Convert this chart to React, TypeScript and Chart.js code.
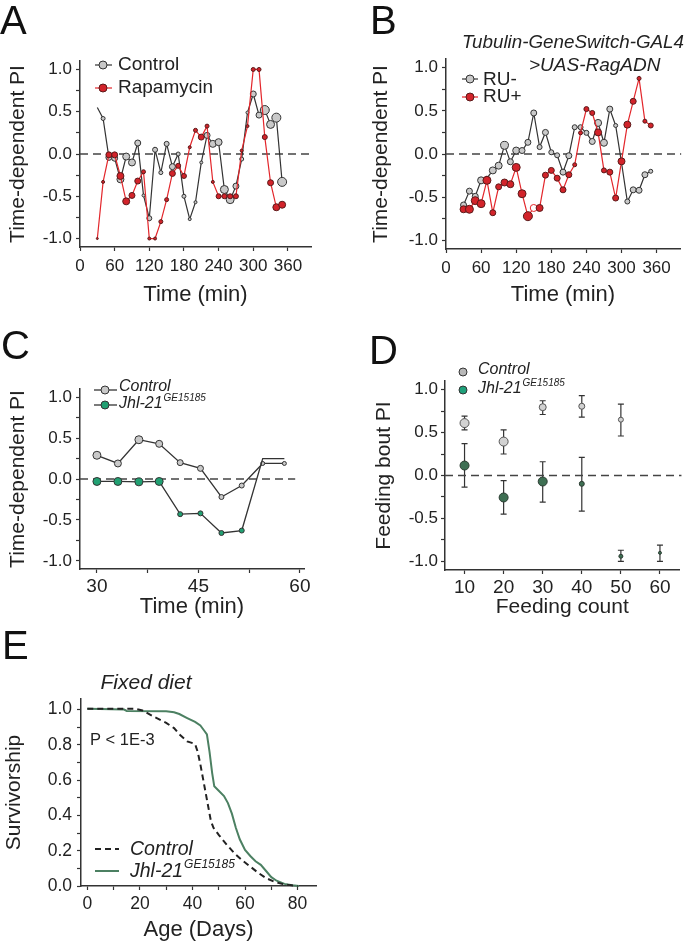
import React, { useEffect, useRef } from 'react';
import { Chart, registerables } from 'chart.js';

Chart.register(...registerables);

const FONT = '"Liberation Sans", Arial, Helvetica, sans-serif';
const INK = '#222';
const AXIS = '#333';
const GRAY_FILL = '#c9c9c9';
const RED_LINE = '#e3262b';
const RED_FILL = '#d2232a';
const RED_EDGE = '#5a1a1a';
const GREEN_C = '#21a072';
const GREEN_D = '#3e6f53';
const GREEN_E = '#4c8062';

Chart.defaults.font.family = FONT;
Chart.defaults.color = INK;

// ---------------- Panel A ----------------
const timeA = [30, 40, 50, 60, 70, 80, 90, 100, 110, 120, 130, 140, 150, 160, 170, 180, 190, 200, 210, 220, 230, 240, 250, 260, 270, 280, 290, 300, 310, 320, 330, 340, 350];
const controlA = [0.55, 0.42, -0.04, -0.05, -0.3, -0.03, -0.1, 0.13, -0.49, -0.76, 0.05, -0.22, 0.12, -0.15, 0.0, -0.5, -0.77, -0.57, -0.1, 0.22, 0.12, 0.14, -0.42, -0.54, -0.38, -0.06, 0.49, 0.71, 0.46, 0.52, 0.35, 0.43, -0.33];
const rapamycinA = [-1.0, -0.33, -0.01, -0.01, -0.26, -0.56, -0.49, -0.32, -0.21, -1.0, -1.0, -0.8, -0.54, -0.23, -0.14, -0.26, 0.08, 0.28, 0.2, 0.33, -0.33, -0.5, -0.5, -0.5, -0.5, 0.04, 0.33, 1.0, 1.0, 0.2, -0.34, -0.63, -0.6];
const controlASize = [0, 2, 3, 3, 3.5, 3.5, 3.5, 3, 1.5, 2.5, 2.5, 2, 2.5, 3, 2, 2, 1.5, 1.5, 1.5, 3, 3.5, 3.5, 4, 4, 3, 2, 1.5, 3, 3, 4.5, 4, 4.5, 4.5];
const rapamycinASize = [1, 1.5, 3, 3, 3.5, 3.5, 3, 3, 2, 1.5, 1.5, 2, 2, 3, 2.5, 2.5, 1.5, 2, 3, 2, 1.5, 2.5, 2.5, 2.5, 2.5, 1.5, 1.5, 2, 2, 2.5, 3, 3.5, 3.5];

// ---------------- Panel B ----------------
const timeB = [30, 40, 50, 60, 70, 80, 90, 100, 110, 120, 130, 140, 150, 160, 170, 180, 190, 200, 210, 220, 230, 240, 250, 260, 270, 280, 290, 300, 310, 320, 330, 340, 350];
const ruMinusB = [-0.59, -0.43, -0.49, -0.305, -0.28, -0.19, -0.135, 0.1, -0.09, 0.04, 0.04, 0.135, 0.475, 0.08, 0.25, 0.02, -0.015, -0.21, -0.02, 0.31, 0.31, 0.245, 0.145, 0.36, 0.13, 0.52, 0.33, -0.1, -0.55, -0.415, -0.42, -0.24, -0.2];
const ruPlusB = [-0.64, -0.64, -0.54, -0.575, -0.305, -0.68, -0.38, -0.33, -0.35, -0.155, -0.46, -0.72, -0.625, -0.625, -0.245, -0.19, -0.28, -0.415, -0.24, -0.125, 0.245, 0.52, 0.475, 0.25, -0.19, -0.21, -0.51, -0.085, 0.34, 0.61, 0.875, 0.38, 0.33];
const ruMinusBSize = [3, 3, 3, 3.5, 2, 3.5, 3.5, 4, 3, 3.5, 3, 3, 3, 2.5, 3, 2.5, 2.5, 3, 3, 2.5, 2.5, 2.5, 3, 3.5, 3.5, 3, 2, 2, 2.5, 3, 3, 3, 2];
const ruPlusBSize = [3.5, 4, 4, 4, 4, 3, 3, 3.5, 3.5, 4, 4, 4.5, 3.5, 3.5, 3, 3, 3, 3, 3, 2, 2, 2.5, 2.5, 3.5, 2.5, 3, 3, 3.5, 3.5, 3, 2, 2, 2.5];
const ruPlusOpenTimes = [150];

// ---------------- Panel C ----------------
const timeC = [30, 33.1, 36.2, 39.2, 42.3, 45.3, 48.4, 51.4, 54.5, 57.7];
const controlC = [0.29, 0.19, 0.48, 0.43, 0.2, 0.13, -0.22, -0.08, 0.19, 0.19];
const jhlC = [-0.03, -0.03, -0.035, -0.03, -0.43, -0.42, -0.66, -0.63, 0.25, 0.25];
const controlCSize = [4, 3.5, 4, 3.5, 3, 3, 2.5, 2.5, 2, 2];
const jhlCSize = [4, 4, 4, 4, 2.5, 2.5, 2.5, 2.5, 0, 0];

// ---------------- Panel D ----------------
const countD = [10, 20, 30, 40, 50, 60];
const controlD = [0.61, 0.395, 0.795, 0.806, 0.65];
const controlDHi = [0.69, 0.53, 0.87, 0.93, 0.83];
const controlDLo = [0.53, 0.25, 0.71, 0.68, 0.46];
const jhlD = [0.116, -0.256, -0.07, -0.097, -0.94, -0.9];
const jhlDHi = [0.37, -0.06, 0.16, 0.21, -0.87, -0.81];
const jhlDLo = [-0.136, -0.45, -0.31, -0.415, -1.0, -1.0];
const controlDSize = [4.5, 4.5, 3.5, 3, 2.5];
const jhlDSize = [4.5, 4.5, 4.5, 2.5, 2, 1.5];

// ---------------- Panel E ----------------
const ageControlE = [0, 18, 21, 25, 30, 33, 35, 38, 41, 42, 43, 44, 45, 46, 47, 48, 50, 53, 56, 59, 62, 65, 68, 71, 74, 77, 80];
const survControlE = [1.005, 1.005, 0.995, 0.962, 0.925, 0.895, 0.86, 0.82, 0.805, 0.76, 0.69, 0.61, 0.53, 0.45, 0.37, 0.33, 0.29, 0.235, 0.185, 0.145, 0.11, 0.075, 0.045, 0.025, 0.012, 0.005, 0];
const ageJhlE = [0, 14, 15, 30, 33, 35, 38, 41, 43, 44.5, 45.5, 46.5, 47.5, 48.3, 50, 52, 53.5, 55, 56.5, 58, 60, 62, 64, 66, 68, 70, 72, 75, 78, 80.5];
const survJhlE = [1.005, 1.0, 0.992, 0.99, 0.985, 0.975, 0.952, 0.93, 0.91, 0.88, 0.86, 0.76, 0.64, 0.565, 0.54, 0.51, 0.47, 0.41, 0.33, 0.265, 0.205, 0.17, 0.14, 0.12, 0.085, 0.05, 0.03, 0.012, 0.004, 0];

// ---------------- Tick labels ----------------
const piMajor = [-1, -0.5, 0, 0.5, 1];
const piMinor = [-0.75, -0.25, 0.25, 0.75];
const timeMajorAB = [0, 60, 120, 180, 240, 300, 360];
const timeMajorC = [30, 45, 60];
const timeMinorC = [37.5, 52.5];
const countMajorD = [10, 20, 30, 40, 50, 60];
const survMajorE = [0, 0.2, 0.4, 0.6, 0.8, 1.0];
const survMinorE = [0.1, 0.3, 0.5, 0.7, 0.9];
const ageMajorE = [0, 20, 40, 60, 80];
const ageMinorE = [10, 30, 50, 70];

const pts = (xs: number[], ys: number[]) => ys.map((y, i) => ({ x: xs[i], y }));
const fmt1 = (v: number) => v.toFixed(1);
const fmt0 = (v: number) => String(Math.round(v));

type Item =
  | { kind: 'text'; x: number; y: number; text: string; sup?: string; size: number; italic?: boolean; align?: 'left' | 'center' }
  | { kind: 'line'; x1: number; y1: number; x2: number; y2: number; color: string; width: number; dash?: number[] }
  | { kind: 'dot'; x: number; y: number; r: number; fill: string; stroke: string };

function extrasPlugin(items: Item[]) {
  return {
    id: 'extras',
    afterDraw(chart: any) {
      const ctx: CanvasRenderingContext2D = chart.ctx;
      ctx.save();
      for (const it of items) {
        if (it.kind === 'line') {
          ctx.beginPath();
          ctx.setLineDash(it.dash || []);
          ctx.strokeStyle = it.color;
          ctx.lineWidth = it.width;
          ctx.moveTo(it.x1, it.y1);
          ctx.lineTo(it.x2, it.y2);
          ctx.stroke();
          ctx.setLineDash([]);
        } else if (it.kind === 'dot') {
          ctx.beginPath();
          ctx.arc(it.x, it.y, it.r, 0, Math.PI * 2);
          ctx.fillStyle = it.fill;
          ctx.fill();
          ctx.strokeStyle = it.stroke;
          ctx.lineWidth = 1;
          ctx.stroke();
        } else {
          const st = it.italic ? 'italic ' : '';
          const baseFont = `${st}${it.size}px ${FONT}`;
          const supSize = Math.round(it.size * 0.62);
          const supFont = `${st}${supSize}px ${FONT}`;
          ctx.font = baseFont;
          const w1 = ctx.measureText(it.text).width;
          let w2 = 0;
          if (it.sup) {
            ctx.font = supFont;
            w2 = ctx.measureText(it.sup).width + 1;
          }
          let x = it.x;
          if (it.align === 'center') x -= (w1 + w2) / 2;
          ctx.fillStyle = INK;
          ctx.textBaseline = 'middle';
          ctx.textAlign = 'left';
          ctx.font = baseFont;
          ctx.fillText(it.text, x, it.y);
          if (it.sup) {
            ctx.font = supFont;
            ctx.fillText(it.sup, x + w1 + 1, it.y - it.size * 0.36);
          }
        }
      }
      ctx.restore();
    },
  };
}

function errorBarsPlugin(groups: { xs: number[]; hi: number[]; lo: number[] }[]) {
  return {
    id: 'errorBars',
    beforeDatasetsDraw(chart: any) {
      const { ctx } = chart;
      const xs = chart.scales.x;
      const ys = chart.scales.y;
      ctx.save();
      ctx.strokeStyle = '#333';
      ctx.lineWidth = 1.2;
      for (const g of groups) {
        g.hi.forEach((h, i) => {
          const px = xs.getPixelForValue(g.xs[i]);
          const pHi = ys.getPixelForValue(h);
          const pLo = ys.getPixelForValue(g.lo[i]);
          ctx.beginPath();
          ctx.moveTo(px, pHi);
          ctx.lineTo(px, pLo);
          ctx.moveTo(px - 3, pHi);
          ctx.lineTo(px + 3, pHi);
          ctx.moveTo(px - 3, pLo);
          ctx.lineTo(px + 3, pLo);
          ctx.stroke();
        });
      }
      ctx.restore();
    },
  };
}

interface AxisOpt {
  min: number;
  max: number;
  major: number[];
  minor?: number[];
  fmt: (v: number) => string;
  title: string;
  titleSize: number;
  titlePad: number;
  tickSize: number;
  tickPad: number;
  fixed: number;
  horizontal: boolean;
}

function axis(o: AxisOpt): any {
  const all = [...o.major, ...(o.minor || [])].sort((a, b) => a - b);
  return {
    type: 'linear',
    position: o.horizontal ? 'bottom' : 'left',
    min: o.min,
    max: o.max,
    offset: false,
    afterBuildTicks: (s: any) => {
      s.ticks = all.map((v) => ({ value: v }));
    },
    afterFit: (s: any) => {
      if (o.horizontal) s.height = o.fixed;
      else s.width = o.fixed;
    },
    ticks: {
      autoSkip: false,
      maxRotation: 0,
      minRotation: 0,
      padding: o.tickPad,
      color: INK,
      font: { size: o.tickSize, family: FONT },
      callback: (v: any) => {
        const n = Number(v);
        return o.major.some((m) => Math.abs(m - n) < 1e-9) ? o.fmt(n) : '';
      },
    },
    grid: { display: true, drawOnChartArea: false, drawTicks: true, tickLength: 4, tickColor: AXIS, tickWidth: 1.2 },
    border: { display: true, color: AXIS, width: 1.5 },
    title: {
      display: true,
      text: o.title,
      color: INK,
      font: { size: o.titleSize, family: FONT },
      padding: o.horizontal ? { top: 0, bottom: o.titlePad } : { top: o.titlePad, bottom: 0 },
    },
  };
}

function baseOptions(padding: any, scales: any): any {
  return {
    animation: false,
    responsive: false,
    maintainAspectRatio: false,
    devicePixelRatio: 1,
    events: [],
    layout: { padding },
    plugins: { legend: { display: false }, tooltip: { enabled: false }, title: { display: false } },
    scales,
  };
}

function zeroLine(x0: number, x1: number): any {
  return {
    data: [{ x: x0, y: 0 }, { x: x1, y: 0 }],
    borderColor: '#444',
    borderWidth: 1.3,
    borderDash: [8, 5],
    pointRadius: 0,
    order: 10,
    clip: false,
  };
}

function buildA(): any {
  return {
    type: 'line',
    data: {
      datasets: [
        zeroLine(0, 402),
        {
          data: pts(timeA, controlA),
          borderColor: '#333',
          borderWidth: 1.2,
          pointRadius: controlASize,
          pointBackgroundColor: GRAY_FILL,
          pointBorderColor: '#333',
          pointBorderWidth: 1,
          order: 2,
          clip: false,
        },
        {
          data: pts(timeA, rapamycinA),
          borderColor: RED_LINE,
          borderWidth: 1.2,
          pointRadius: rapamycinASize,
          pointBackgroundColor: RED_FILL,
          pointBorderColor: RED_EDGE,
          pointBorderWidth: 1,
          order: 1,
          clip: false,
        },
      ],
    },
    options: baseOptions(
      { left: 0, top: 41, right: 19, bottom: 0 },
      {
        x: axis({ min: 0, max: 400, major: timeMajorAB, fmt: fmt0, title: 'Time (min)', titleSize: 22, titlePad: 2, tickSize: 17, tickPad: 5, fixed: 63, horizontal: true }),
        y: axis({ min: -1.1, max: 1.1, major: piMajor, minor: piMinor, fmt: fmt1, title: 'Time-dependent PI', titleSize: 21, titlePad: 6, tickSize: 17, tickPad: 4, fixed: 80, horizontal: false }),
      }
    ),
    plugins: [
      extrasPlugin([
        { kind: 'line', x1: 95, y1: 45, x2: 112, y2: 45, color: '#333', width: 1.2 },
        { kind: 'dot', x: 103, y: 45, r: 4, fill: GRAY_FILL, stroke: '#333' },
        { kind: 'text', x: 118, y: 45, text: 'Control', size: 19 },
        { kind: 'line', x1: 95, y1: 68, x2: 112, y2: 68, color: RED_LINE, width: 1.2 },
        { kind: 'dot', x: 103, y: 68, r: 4, fill: RED_FILL, stroke: RED_EDGE },
        { kind: 'text', x: 118, y: 68, text: 'Rapamycin', size: 19 },
      ]),
    ],
  };
}

function buildB(): any {
  return {
    type: 'line',
    data: {
      datasets: [
        zeroLine(0, 402),
        {
          data: pts(timeB, ruMinusB),
          borderColor: '#333',
          borderWidth: 1.2,
          pointRadius: ruMinusBSize,
          pointBackgroundColor: GRAY_FILL,
          pointBorderColor: '#333',
          pointBorderWidth: 1,
          order: 2,
          clip: false,
        },
        {
          data: pts(timeB, ruPlusB),
          borderColor: RED_LINE,
          borderWidth: 1.2,
          pointRadius: ruPlusBSize,
          pointBackgroundColor: timeB.map((t) => (ruPlusOpenTimes.includes(t) ? '#ffffff' : RED_FILL)),
          pointBorderColor: timeB.map((t) => (ruPlusOpenTimes.includes(t) ? RED_LINE : RED_EDGE)),
          pointBorderWidth: 1,
          order: 1,
          clip: false,
        },
      ],
    },
    options: baseOptions(
      { left: 0, top: 39, right: 4, bottom: 0 },
      {
        x: axis({ min: 0, max: 400, major: timeMajorAB, fmt: fmt0, title: 'Time (min)', titleSize: 22, titlePad: 2, tickSize: 17, tickPad: 5, fixed: 61, horizontal: true }),
        y: axis({ min: -1.1, max: 1.1, major: piMajor, minor: piMinor, fmt: fmt1, title: 'Time-dependent PI', titleSize: 21, titlePad: 24, tickSize: 17, tickPad: 4, fixed: 101, horizontal: false }),
      }
    ),
    plugins: [
      extrasPlugin([
        { kind: 'text', x: 117, y: 23, text: 'Tubulin-GeneSwitch-GAL4', size: 18.8, italic: true },
        { kind: 'text', x: 184, y: 45.5, text: '>UAS-RagADN', size: 19, italic: true },
        { kind: 'line', x1: 117, y1: 59, x2: 133, y2: 59, color: '#333', width: 1.2 },
        { kind: 'dot', x: 125, y: 59, r: 4, fill: GRAY_FILL, stroke: '#333' },
        { kind: 'text', x: 138, y: 60, text: 'RU-', size: 19 },
        { kind: 'line', x1: 117, y1: 77, x2: 133, y2: 77, color: RED_LINE, width: 1.2 },
        { kind: 'dot', x: 125, y: 77, r: 4, fill: RED_FILL, stroke: RED_EDGE },
        { kind: 'text', x: 138, y: 77, text: 'RU+', size: 19 },
      ]),
    ],
  };
}

function buildC(): any {
  return {
    type: 'line',
    data: {
      datasets: [
        zeroLine(27.5, 59.3),
        {
          data: pts(timeC, controlC),
          borderColor: '#333',
          borderWidth: 1.3,
          pointRadius: controlCSize,
          pointBackgroundColor: GRAY_FILL,
          pointBorderColor: '#333',
          pointBorderWidth: 1,
          order: 2,
          clip: false,
        },
        {
          data: pts(timeC, jhlC),
          borderColor: '#333',
          borderWidth: 1.3,
          pointRadius: jhlCSize,
          pointBackgroundColor: GREEN_C,
          pointBorderColor: '#333',
          pointBorderWidth: 1,
          order: 1,
          clip: false,
        },
      ],
    },
    options: baseOptions(
      { left: 0, top: 34, right: 26, bottom: 0 },
      {
        x: axis({ min: 27.5, max: 60.6, major: timeMajorC, minor: timeMinorC, fmt: fmt0, title: 'Time (min)', titleSize: 22, titlePad: 5, tickSize: 19, tickPad: 2, fixed: 56, horizontal: true }),
        y: axis({ min: -1.1, max: 1.1, major: piMajor, minor: piMinor, fmt: fmt1, title: 'Time-dependent PI', titleSize: 21, titlePad: 6, tickSize: 17, tickPad: 4, fixed: 80, horizontal: false }),
      }
    ),
    plugins: [
      extrasPlugin([
        { kind: 'line', x1: 94, y1: 35, x2: 117, y2: 35, color: '#333', width: 1.3 },
        { kind: 'dot', x: 105, y: 35, r: 4, fill: GRAY_FILL, stroke: '#333' },
        { kind: 'text', x: 119, y: 32, text: 'Control', size: 16, italic: true },
        { kind: 'line', x1: 94, y1: 50, x2: 117, y2: 50, color: '#333', width: 1.3 },
        { kind: 'dot', x: 105, y: 50, r: 4, fill: GREEN_C, stroke: '#333' },
        { kind: 'text', x: 119, y: 49, text: 'Jhl-21', sup: 'GE15185', size: 16, italic: true },
      ]),
    ],
  };
}

function buildD(): any {
  return {
    type: 'line',
    data: {
      datasets: [
        zeroLine(5, 65.5),
        {
          data: pts(countD, controlD),
          showLine: false,
          pointRadius: controlDSize,
          pointBackgroundColor: '#d2d2d2',
          pointBorderColor: '#555',
          pointBorderWidth: 1,
          order: 2,
          clip: false,
        },
        {
          data: pts(countD, jhlD),
          showLine: false,
          pointRadius: jhlDSize,
          pointBackgroundColor: GREEN_D,
          pointBorderColor: '#2b3b31',
          pointBorderWidth: 1,
          order: 1,
          clip: false,
        },
      ],
    },
    options: baseOptions(
      { left: 0, top: 26, right: 5, bottom: 0 },
      {
        x: axis({ min: 5, max: 65, major: countMajorD, fmt: fmt0, title: 'Feeding count', titleSize: 21, titlePad: 5, tickSize: 19, tickPad: 2, fixed: 55, horizontal: true }),
        y: axis({ min: -1.1, max: 1.1, major: piMajor, minor: piMinor, fmt: fmt1, title: 'Feeding bout PI', titleSize: 21, titlePad: 27, tickSize: 17, tickPad: 3, fixed: 100, horizontal: false }),
      }
    ),
    plugins: [
      errorBarsPlugin([
        { xs: countD, hi: controlDHi, lo: controlDLo },
        { xs: countD, hi: jhlDHi, lo: jhlDLo },
      ]),
      extrasPlugin([
        { kind: 'dot', x: 118, y: 17, r: 4, fill: '#b8b8b8', stroke: '#333' },
        { kind: 'text', x: 133, y: 15, text: 'Control', size: 16, italic: true },
        { kind: 'dot', x: 118, y: 35, r: 4, fill: '#1fa07a', stroke: '#333' },
        { kind: 'text', x: 133, y: 34, text: 'Jhl-21', sup: 'GE15185', size: 16, italic: true },
      ]),
    ],
  };
}

function buildE(): any {
  return {
    type: 'line',
    data: {
      datasets: [
        {
          data: pts(ageControlE, survControlE),
          borderColor: '#222',
          borderWidth: 2,
          borderDash: [6, 4],
          pointRadius: 0,
          order: 1,
          clip: false,
        },
        {
          data: pts(ageJhlE, survJhlE),
          borderColor: GREEN_E,
          borderWidth: 2,
          pointRadius: 0,
          order: 2,
          clip: false,
        },
      ],
    },
    options: baseOptions(
      { left: 0, top: 29, right: 14, bottom: 0 },
      {
        x: axis({ min: -2.4, max: 87, major: ageMajorE, minor: ageMinorE, fmt: fmt0, title: 'Age (Days)', titleSize: 22, titlePad: 3, tickSize: 17.5, tickPad: 4, fixed: 60, horizontal: true }),
        y: axis({ min: 0, max: 1.06, major: survMajorE, minor: survMinorE, fmt: fmt1, title: 'Survivorship', titleSize: 21, titlePad: 2, tickSize: 17.5, tickPad: 5, fixed: 81, horizontal: false }),
      }
    ),
    plugins: [
      extrasPlugin([
        { kind: 'text', x: 146, y: 13, text: 'Fixed diet', size: 21, italic: true, align: 'center' },
        { kind: 'text', x: 90, y: 70, text: 'P < 1E-3', size: 16.5 },
        { kind: 'line', x1: 95, y1: 179, x2: 119, y2: 179, color: '#222', width: 2, dash: [6, 4] },
        { kind: 'text', x: 130, y: 180, text: 'Control', size: 19.5, italic: true },
        { kind: 'line', x1: 95, y1: 201, x2: 119, y2: 201, color: GREEN_E, width: 2 },
        { kind: 'text', x: 130, y: 202, text: 'Jhl-21', sup: 'GE15185', size: 19.5, italic: true },
      ]),
    ],
  };
}

function Panel(props: { left: number; top: number; width: number; height: number; build: () => any }) {
  const ref = useRef<HTMLCanvasElement>(null);
  useEffect(() => {
    const chart = new Chart(ref.current as HTMLCanvasElement, props.build());
    return () => chart.destroy();
  }, []);
  return (
    <canvas
      ref={ref}
      width={props.width}
      height={props.height}
      style={{ position: 'absolute', left: props.left, top: props.top, width: props.width, height: props.height }}
    />
  );
}

const letterStyle = (left: number, top: number): React.CSSProperties => ({
  position: 'absolute',
  left,
  top,
  fontFamily: FONT,
  fontSize: 40,
  lineHeight: 1,
  color: '#111',
});

export default function App() {
  return (
    <div style={{ position: 'absolute', left: 0, top: 0, width: 685, height: 946, background: '#fff', overflow: 'hidden' }}>
      <Panel left={0} top={20} width={330} height={290} build={buildA} />
      <Panel left={345} top={20} width={340} height={290} build={buildB} />
      <Panel left={0} top={355} width={330} height={270} build={buildC} />
      <Panel left={345} top={355} width={340} height={270} build={buildD} />
      <Panel left={0} top={670} width={330} height={276} build={buildE} />
      <div style={letterStyle(0, 0)}>A</div>
      <div style={letterStyle(370, 0)}>B</div>
      <div style={letterStyle(1, 325)}>C</div>
      <div style={letterStyle(369, 330)}>D</div>
      <div style={letterStyle(2, 625)}>E</div>
    </div>
  );
}
